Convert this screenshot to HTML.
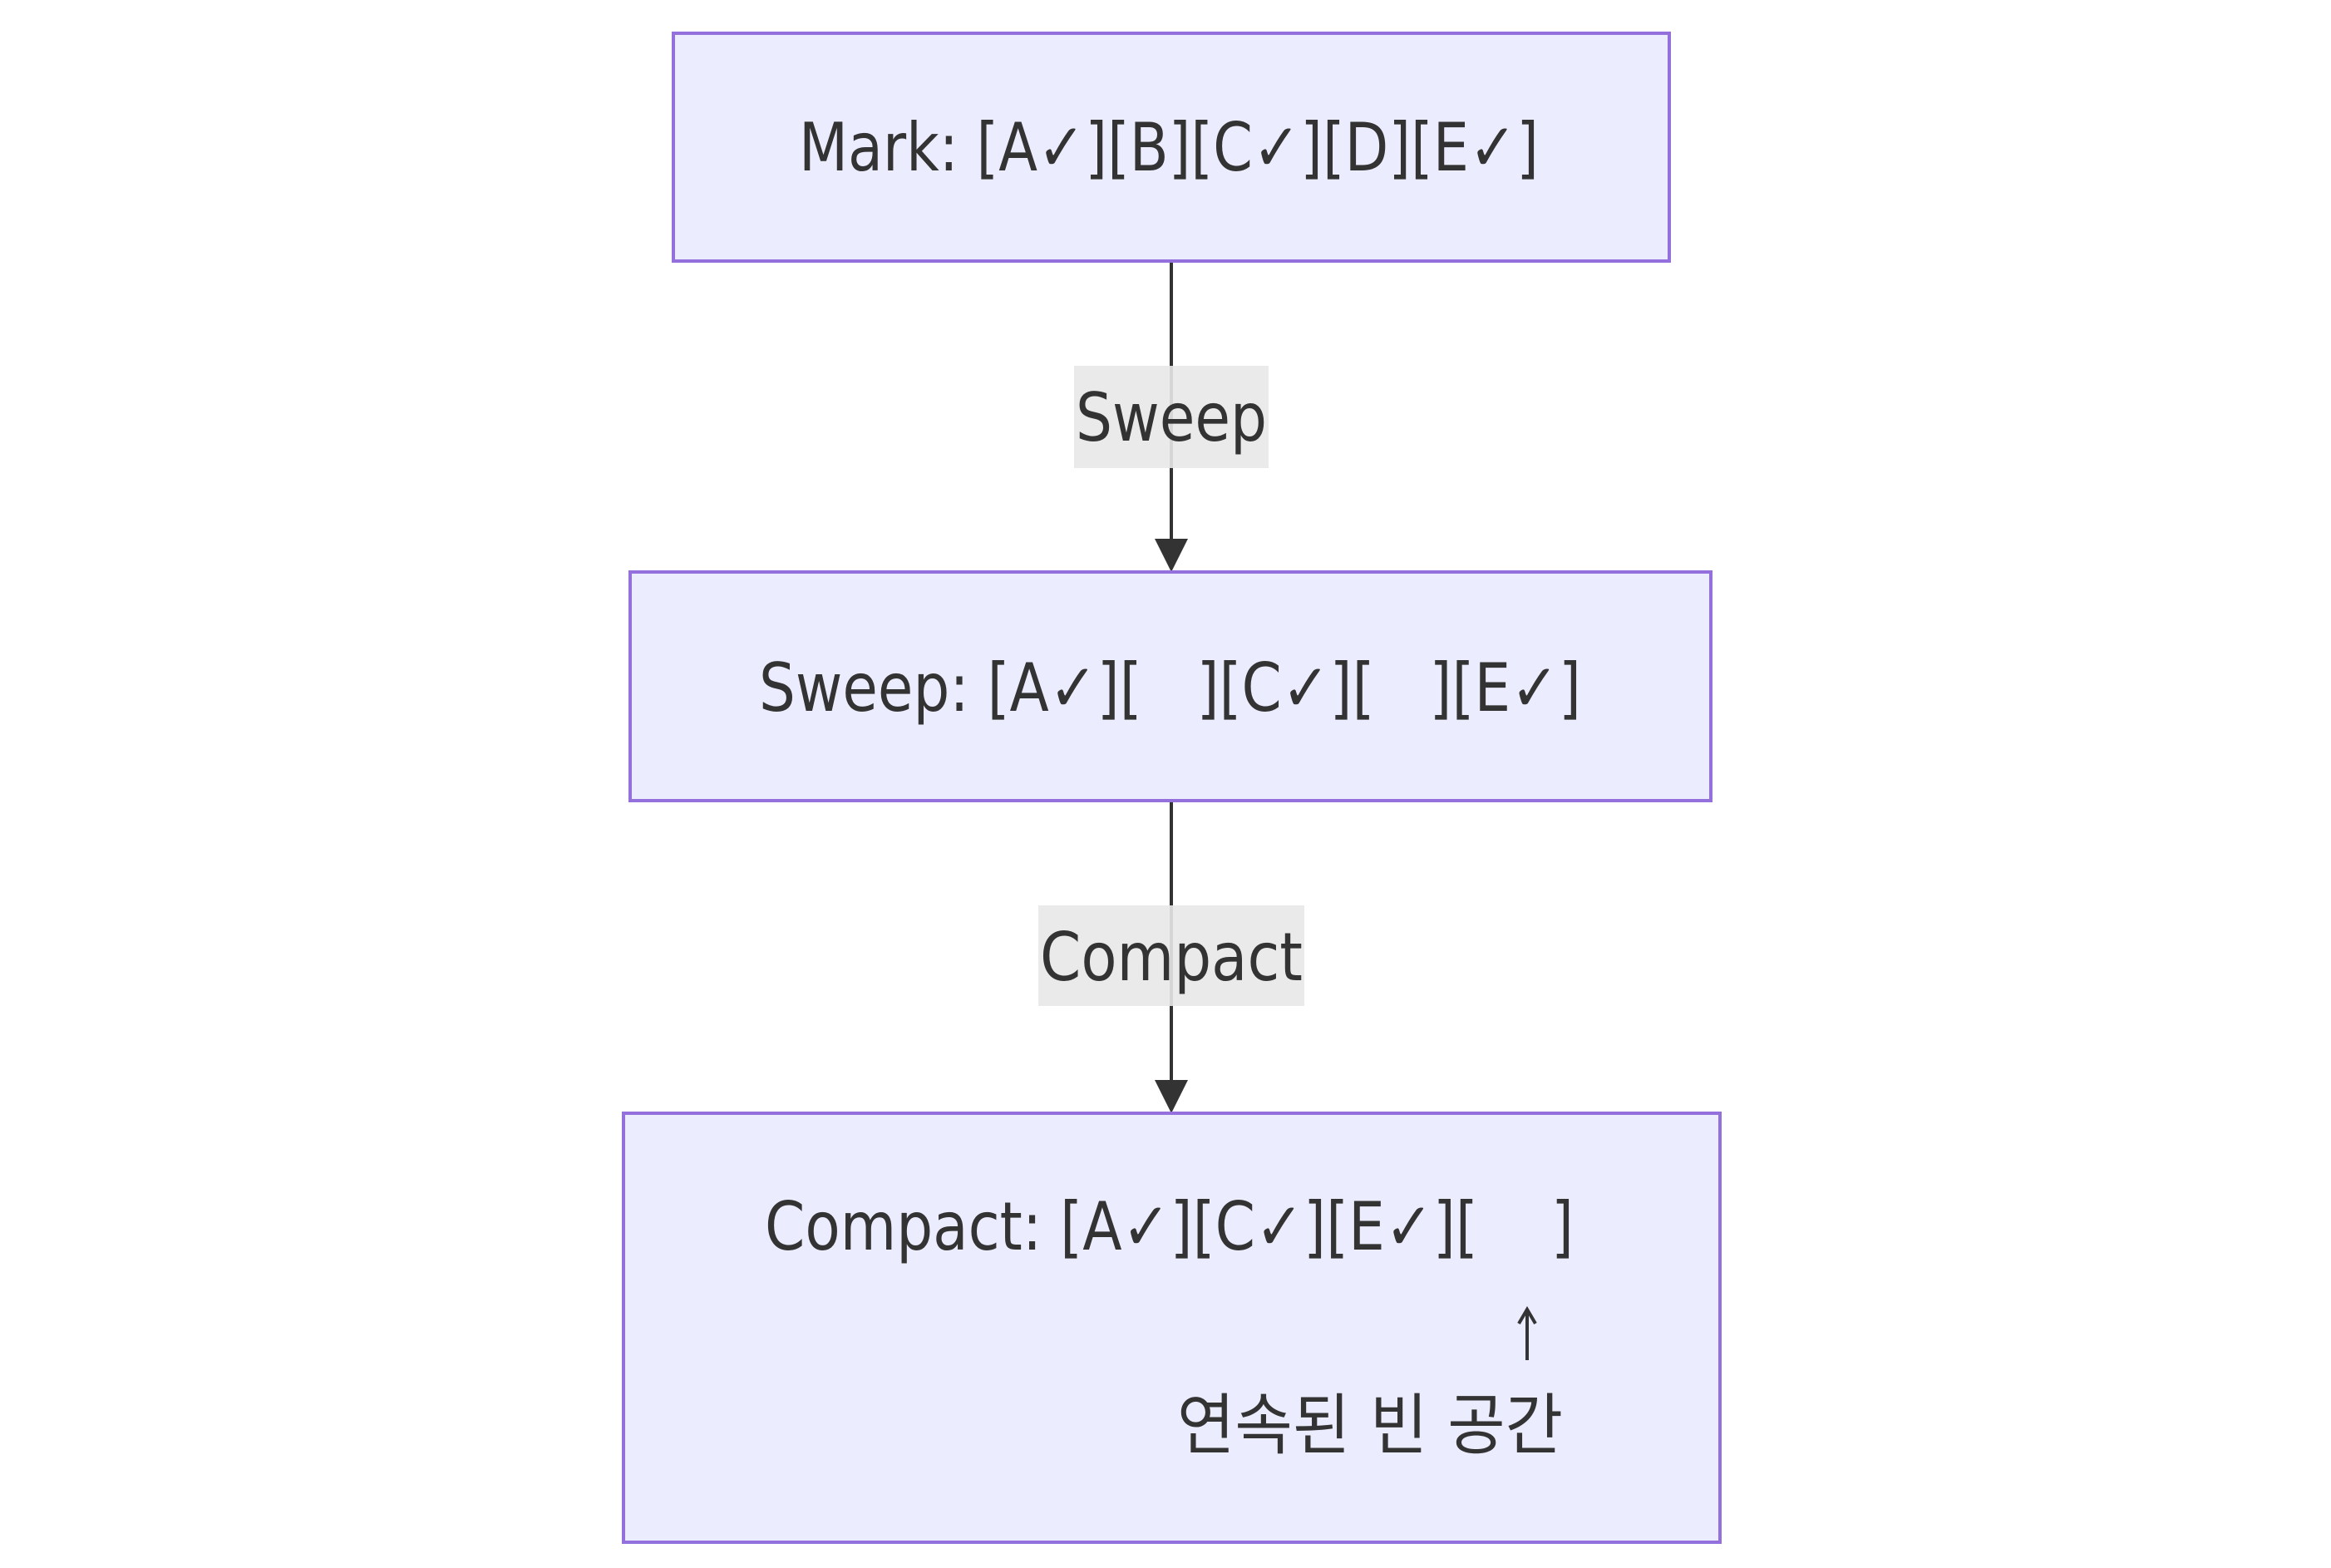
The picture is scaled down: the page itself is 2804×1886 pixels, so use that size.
<!DOCTYPE html>
<html><head><meta charset="utf-8"><style>
html,body{margin:0;padding:0;background:#fff;}
svg{display:block;}
text{font-family:"DejaVu Sans","Noto Sans CJK KR",sans-serif;fill:#333;font-size:80px;}
</style></head><body>
<svg width="2804" height="1886" viewBox="0 0 2804 1886" xmlns="http://www.w3.org/2000/svg">
<rect width="2804" height="1886" fill="#fff"/>
<line x1="1409" y1="314" x2="1409" y2="650" stroke="#333" stroke-width="4"/>
<polygon points="1389,648 1429,648 1409,688" fill="#333"/>
<line x1="1409" y1="963" x2="1409" y2="1300" stroke="#333" stroke-width="4"/>
<polygon points="1389,1299 1429,1299 1409,1339" fill="#333"/>
<rect x="1292" y="440" width="234" height="123" fill="#e8e8e8" opacity="0.9"/>
<text x="1409" y="530" text-anchor="middle" textLength="230" lengthAdjust="spacingAndGlyphs">Sweep</text>
<rect x="1249" y="1089" width="320" height="121" fill="#e8e8e8" opacity="0.9"/>
<text x="1409" y="1179" text-anchor="middle" textLength="316" lengthAdjust="spacingAndGlyphs">Compact</text>
<rect x="810" y="40" width="1198" height="274" fill="#ECECFF" stroke="#9370DB" stroke-width="4"/>
<text x="961" y="205" textLength="890" lengthAdjust="spacingAndGlyphs" xml:space="preserve">Mark: [A✓][B][C✓][D][E✓]</text>
<rect x="758" y="688" width="1300" height="275" fill="#ECECFF" stroke="#9370DB" stroke-width="4"/>
<text x="913" y="855" textLength="989" lengthAdjust="spacingAndGlyphs" xml:space="preserve">Sweep: [A✓][   ][C✓][   ][E✓]</text>
<rect x="750" y="1339" width="1319" height="516" fill="#ECECFF" stroke="#9370DB" stroke-width="4"/>
<text x="920" y="1503" textLength="973" lengthAdjust="spacingAndGlyphs" xml:space="preserve">Compact: [A✓][C✓][E✓][    ]</text>
<line x1="1837" y1="1578" x2="1837" y2="1636" stroke="#333" stroke-width="4"/>
<polyline points="1827,1592 1837,1575 1847,1592" fill="none" stroke="#333" stroke-width="4"/>
<text x="1416" y="1742" textLength="464" lengthAdjust="spacingAndGlyphs">연속된 빈 공간</text>
</svg>
</body></html>
